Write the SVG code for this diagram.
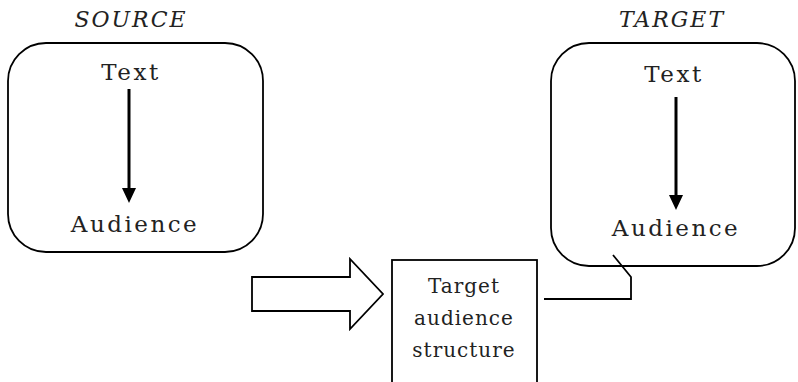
<svg xmlns="http://www.w3.org/2000/svg" width="798" height="382" viewBox="0 0 798 382">
<defs>
<style>
.box{fill:none;stroke:#000;stroke-width:1.8}
text{fill:#222;text-anchor:middle}
.t{font-family:'DejaVu Serif',serif;font-size:23px;letter-spacing:2.5px}
.h{font-family:'DejaVu Serif',serif;font-size:22px;font-style:italic;letter-spacing:2px}
.s{font-family:'DejaVu Serif',serif;font-size:20px;letter-spacing:1px}
.ar{stroke:#000;stroke-width:3;fill:none}
</style>
</defs>
<g id="source">
<text class="h" x="131" y="27">SOURCE</text>
<rect class="box" x="8" y="43" width="255" height="209" rx="38" ry="38"/>
<text class="t" x="131" y="80">Text</text>
<text class="t" x="135" y="232">Audience</text>
</g>
<g id="target">
<text class="h" x="672" y="27">TARGET</text>
<rect class="box" x="551" y="43" width="244" height="223" rx="38" ry="38"/>
<text class="t" x="674" y="82">Text</text>
<text class="t" x="676" y="236">Audience</text>
</g>
<g id="structure">
<rect class="box" x="392" y="260" width="145" height="130"/>
<text class="s" x="464" y="293">Target</text>
<text class="s" x="464" y="325">audience</text>
<text class="s" x="464" y="357">structure</text>
</g>
<g id="connectors">
<line class="ar" x1="129" y1="89" x2="129" y2="188"/>
<path d="M122,188 L136,188 L129,203 Z" fill="#000"/>
<line class="ar" x1="676" y1="97" x2="676" y2="195"/>
<path d="M669,195 L683,195 L676,210 Z" fill="#000"/>
<path class="box" d="M252,277 L350,277 L350,259 L383,294 L350,329 L350,311 L252,311 Z"/>
<path class="box" d="M544,299 L631,299 L631,277 L613,255"/>
</g>
</svg>
